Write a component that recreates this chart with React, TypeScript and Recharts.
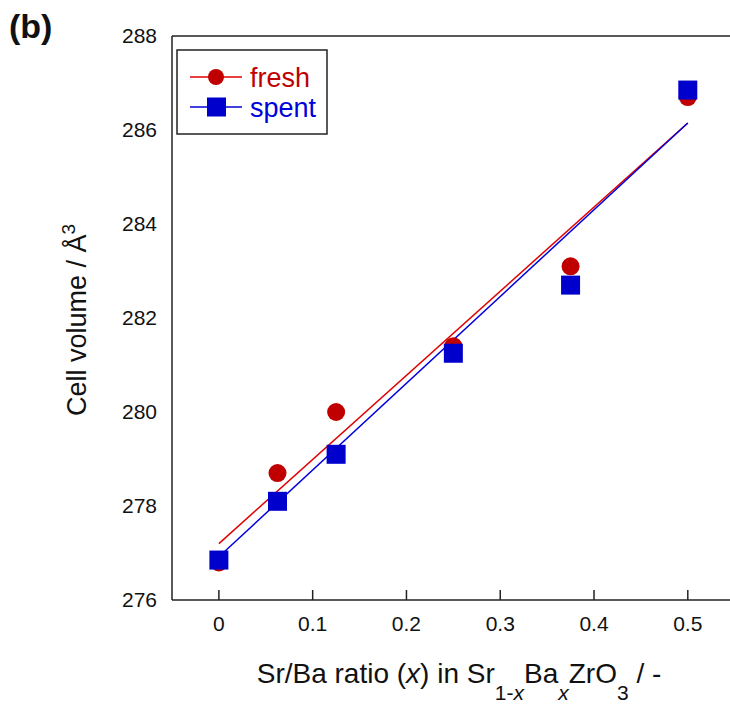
import { ReferenceLine, Scatter, ScatterChart, XAxis, YAxis } from "recharts";

const ratios = [0, 0.0625, 0.125, 0.25, 0.375, 0.5];
const freshVolume = [276.8, 278.7, 280.0, 281.4, 283.1, 286.7];
const spentVolume = [276.85, 278.1, 279.1, 281.25, 282.7, 286.85];
const fitEnds = [0, 0.5];
const freshFit = [277.2, 286.15];
const spentFit = [276.92, 286.15];
const xTicks = [0, 0.1, 0.2, 0.3, 0.4, 0.5];
const yTicks = [276, 278, 280, 282, 284, 286, 288];

const RED = "#c00000";
const RED_LINE = "#e00000";
const BLUE = "#0000cc";
const BLUE_LINE = "#0000dd";
const FONT = "'Liberation Sans', Arial, sans-serif";

const toPoints = (xs: number[], ys: number[]) => xs.map((x, i) => ({ x, y: ys[i] }));

const freshData = toPoints(ratios, freshVolume);
const spentData = toPoints(ratios, spentVolume);
const freshFitData = toPoints(fitEnds, freshFit);
const spentFitData = toPoints(fitEnds, spentFit);

const Dot = (props: any) => <circle cx={props.cx} cy={props.cy} r={9} fill={RED} />;
const Square = (props: any) => (
  <rect x={props.cx - 9.5} y={props.cy - 9.5} width={19} height={19} fill={BLUE} />
);
const NoShape = () => <g />;

const XTick = (props: any) => {
  const { x, y, payload } = props;
  return (
    <g>
      <line x1={x} x2={x} y1={y} y2={y - 10} stroke="#222" strokeWidth={1.5} />
      <text x={x} y={y + 31} textAnchor="middle" fontSize={21} fill="#111" fontFamily={FONT}>
        {payload.value}
      </text>
    </g>
  );
};

// legend drawn by hand: a framed box with both series
const LegendBox = () => (
  <svg
    width={152}
    height={86}
    style={{ position: "absolute", left: 176, top: 49, display: "block" }}
  >
    <rect x={1} y={1} width={150} height={84} fill="#fff" stroke="#222" strokeWidth={1.5} />
    <line x1={14} x2={66} y1={28} y2={28} stroke={RED_LINE} strokeWidth={1.5} />
    <circle cx={40} cy={28} r={8} fill={RED} />
    <text x={74} y={38} fontSize={27} fill={RED} fontFamily={FONT}>fresh</text>
    <line x1={14} x2={66} y1={58} y2={58} stroke={BLUE_LINE} strokeWidth={1.5} />
    <rect x={31} y={48.5} width={19} height={19} fill={BLUE} />
    <text x={74} y={68} fontSize={27} fill={BLUE_LINE} fontFamily={FONT}>spent</text>
  </svg>
);

export default function App() {
  return (
    <div style={{ position: "absolute", left: 0, top: 0, width: 730, height: 704, background: "#fff" }}>
      <ScatterChart width={730} height={704} margin={{ top: 36, right: 0, bottom: 0, left: 0 }}>
        <XAxis
          type="number"
          dataKey="x"
          domain={[-0.05, 0.545]}
          ticks={xTicks}
          allowDataOverflow
          height={104}
          tickLine={false}
          tickSize={0}
          tickMargin={0}
          tick={<XTick />}
          axisLine={{ stroke: "#222", strokeWidth: 1.5 }}
          label={{
            content: () => (
              <text x={459} y={683} textAnchor="middle" fontSize={28} fill="#111" fontFamily={FONT}>
                Sr/Ba ratio (<tspan fontStyle="italic">x</tspan>) in Sr
                <tspan dy={17} fontSize={21}>1-</tspan>
                <tspan fontSize={21} fontStyle="italic">x</tspan>
                <tspan dy={-17}>Ba</tspan>
                <tspan dy={17} fontSize={21} fontStyle="italic">x</tspan>
                <tspan dy={-17}>ZrO</tspan>
                <tspan dy={17} fontSize={21}>3</tspan>
                <tspan dy={-17}> / -</tspan>
              </text>
            )
          }}
        />
        <YAxis
          type="number"
          dataKey="y"
          domain={[276, 288]}
          ticks={yTicks}
          width={172}
          tickLine={false}
          tickSize={0}
          tickMargin={15}
          tick={{ fontSize: 21, fill: "#111", fontFamily: FONT }}
          axisLine={{ stroke: "#222", strokeWidth: 1.5 }}
          label={{
            content: () => (
              <text
                transform="translate(86,320) rotate(-90)"
                textAnchor="middle"
                fontSize={27}
                fill="#111"
                fontFamily={FONT}
              >
                Cell volume / Å<tspan dy={-11} fontSize={19}>3</tspan>
              </text>
            )
          }}
        />
        <ReferenceLine y={288} stroke="#222" strokeWidth={1.5} />
        <Scatter
          data={freshFitData}
          line={{ stroke: RED_LINE, strokeWidth: 1.5 }}
          shape={NoShape}
          isAnimationActive={false}
        />
        <Scatter
          data={spentFitData}
          line={{ stroke: BLUE_LINE, strokeWidth: 1.5 }}
          shape={NoShape}
          isAnimationActive={false}
        />
        <Scatter data={freshData} shape={Dot} isAnimationActive={false} />
        <Scatter data={spentData} shape={Square} isAnimationActive={false} />
      </ScatterChart>
      <LegendBox />
      <svg width={80} height={50} style={{ position: "absolute", left: 0, top: 0 }}>
        <text x={9} y={38} fontSize={34} fontWeight="bold" fill="#111" fontFamily={FONT}>
          (b)
        </text>
      </svg>
    </div>
  );
}
